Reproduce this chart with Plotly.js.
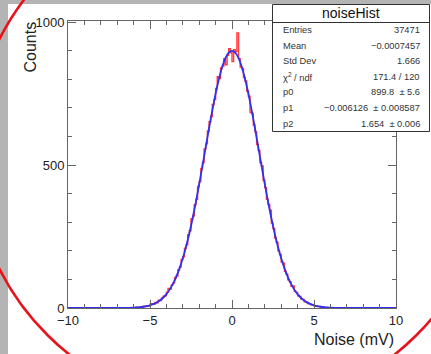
<!DOCTYPE html>
<html>
<head>
<meta charset="utf-8">
<script src="https://cdn.plot.ly/plotly-3.0.1.min.js"></script>
<style>html,body{margin:0;padding:0;background:#fff;}#chart{width:431px;height:354px;}</style>
</head>
<body>
<div id="chart"></div>
<script>
// ---- data ----
const histLow = -10;           // histogram range start (mV)
const binWidth = 0.1;          // bin width (mV)
const emptyLowBins = 40;       // bins -10 .. -6 are empty
const emptyHighBins = 40;      // bins 6 .. 10 are empty
// counts of the bins from -6.0 to 6.0 mV
const coreCounts = [
  2, 1, 3, 2, 4, 3, 6, 5, 8, 7,
  13, 15, 13, 19, 18, 27, 26, 35, 41, 43,
  55, 68, 66, 81, 87, 106, 112, 134, 143, 170,
  179, 209, 221, 256, 270, 312, 322, 361, 380, 425,
  442, 488, 509, 556, 574, 619, 652, 670, 712, 729,
  768, 809, 803, 840, 846, 872, 851, 884, 907, 893,
  862, 904, 897, 962, 872, 843, 838, 806, 794, 759,
  741, 684, 681, 640, 617, 572, 551, 509, 497, 446,
  421, 380, 362, 342, 297, 278, 245, 230, 200, 187,
  161, 157, 128, 118, 99, 92, 76, 77, 58, 54,
  43, 40, 31, 30, 22, 21, 16, 15, 11, 11,
  8, 7, 5, 5, 3, 4, 2, 2, 1, 1
];
// gaussian fit curve as drawn
const fitX = [-10, -9, -8, -7, -6.5, -6.0, -5.8, -5.6, -5.4, -5.2, -5.0, -4.8, -4.6, -4.4, -4.2, -4.0,
  -3.8, -3.6, -3.4, -3.2, -3.0, -2.8, -2.6, -2.4, -2.2, -2.0, -1.8, -1.6, -1.4, -1.2, -1.0,
  -0.8, -0.6, -0.4, -0.2, 0, 0.2, 0.4, 0.6, 0.8, 1.0, 1.2, 1.4, 1.6, 1.8, 2.0, 2.2, 2.4, 2.6,
  2.8, 3.0, 3.2, 3.4, 3.6, 3.8, 4.0, 4.2, 4.4, 4.6, 4.8, 5.0, 5.2, 5.4, 5.6, 5.8, 6.0, 6.5, 7, 8, 9, 10];
const fitY = [0, 0, 0, 0.1, 0.4, 1.3, 1.9, 2.9, 4.4, 6.4, 9.3, 13.3, 18.8, 26.1, 35.8, 48.3,
  64.3, 84.2, 108.8, 138.5, 173.7, 214.7, 261.6, 314.0, 371.5, 433.2, 497.7, 563.6, 628.9, 691.6, 749.5,
  800.5, 842.5, 873.9, 893.3, 899.8, 893.3, 873.9, 842.5, 800.5, 749.5, 691.6, 628.9, 563.6, 497.7, 433.2, 371.5, 314.0, 261.6,
  214.7, 173.7, 138.5, 108.8, 84.2, 64.3, 48.3, 35.8, 26.1, 18.8, 13.3, 9.3, 6.4, 4.4, 2.9, 1.9, 1.3, 0.4, 0.1, 0, 0, 0];
// stats box
const statsTitle = "noiseHist";
const statLabels = ["Entries", "Mean", "Std Dev", "χ<sup>2</sup> / ndf", "p0", "p1", "p2"];
const statValues = ["37471", "−0.0007457", "1.666", "171.4 / 120", "899.8  ± 5.6", "−0.006126  ± 0.008587", "1.654  ± 0.006"];
const xTitle = "Noise (mV)";
const yTitle = "Counts";

// ---- build histogram step line ----
const counts = new Array(emptyLowBins).fill(0).concat(coreCounts, new Array(emptyHighBins).fill(0));
const hx = [], hy = [];
for (let i = 0; i < counts.length; i++) { hx.push(histLow + i * binWidth); hy.push(counts[i]); }
hx.push(histLow + counts.length * binWidth); hy.push(counts[counts.length - 1]);

// ---- geometry helpers (plot area in pixels) ----
const L = 68, R = 396, T = 21, B = 308;
const px = v => (v - L) / (R - L);
const py = v => (B - v) / (B - T);

const fontFam = "Liberation Sans, Arial, sans-serif";
const axisCol = "#666";

const traces = [
  {x: hx, y: hy, type: "scatter", mode: "lines", line: {shape: "hv", color: "#ff3c3c", width: 1.4}, hoverinfo: "skip"},
  {x: fitX, y: fitY, type: "scatter", mode: "lines", line: {shape: "spline", smoothing: 0.6, color: "#3030ee", width: 1.8}, hoverinfo: "skip"}
];

const annotations = [];
annotations.push({xref: "paper", yref: "paper", x: px(351), y: py(13), text: statsTitle, showarrow: false,
  xanchor: "center", yanchor: "middle", font: {family: fontFam, size: 14, color: "#111"}});
const rowY = [30, 46, 61.5, 77, 92.5, 108.3, 124];
statLabels.forEach((s, i) => {
  annotations.push({xref: "paper", yref: "paper", x: px(281), y: py(rowY[i]), text: s, showarrow: false,
    xanchor: "left", yanchor: "middle", font: {family: fontFam, size: 9.3, color: "#333"}});
  annotations.push({xref: "paper", yref: "paper", x: px(422), y: py(rowY[i]), text: statValues[i], showarrow: false,
    xanchor: "right", yanchor: "middle", font: {family: fontFam, size: 9.3, color: "#333"}});
});
annotations.push({xref: "paper", yref: "paper", x: px(396), y: py(339), text: xTitle, showarrow: false,
  xanchor: "right", yanchor: "middle", font: {family: fontFam, size: 16, color: "#222"}});
annotations.push({xref: "paper", yref: "paper", x: px(30), y: py(20), text: yTitle, showarrow: false, textangle: -90,
  xanchor: "center", yanchor: "top", font: {family: fontFam, size: 16, color: "#222"}});

const shapes = [
  // gray window frame strips
  {type: "rect", xref: "paper", yref: "paper", x0: px(0), x1: px(8), y0: py(360), y1: py(-5), fillcolor: "#b4b4b4", line: {width: 0}, layer: "below"},
  {type: "rect", xref: "paper", yref: "paper", x0: px(0), x1: px(435), y0: py(4), y1: py(-5), fillcolor: "#b4b4b4", line: {width: 0}, layer: "below"},
  // stats box
  {type: "rect", xref: "paper", yref: "paper", x0: px(272.5), x1: px(429.5), y0: py(131.5), y1: py(4.5), fillcolor: "#fff", line: {color: "#333", width: 1}},
  {type: "line", xref: "paper", yref: "paper", x0: px(272.5), x1: px(429.5), y0: py(22.5), y1: py(22.5), line: {color: "#333", width: 1}},
  // red hand-drawn ellipse
  {type: "circle", xref: "paper", yref: "paper", x0: px(232 - 260), x1: px(232 + 260), y0: py(154 + 257), y1: py(154 - 257), line: {color: "#e8141c", width: 2.6}}
];

const layout = {
  width: 431, height: 354,
  margin: {l: L, r: 431 - R, t: T, b: 354 - B, pad: 0},
  paper_bgcolor: "#fff", plot_bgcolor: "#fff",
  showlegend: false,
  font: {family: fontFam, color: "#222"},
  xaxis: {range: [-10, 10], tickmode: "linear", tick0: 0, dtick: 5, ticks: "inside", ticklen: 8, tickcolor: axisCol,
    minor: {dtick: 1, tick0: 0, ticks: "inside", ticklen: 4, tickcolor: axisCol, showgrid: false},
    showline: true, linecolor: axisCol, linewidth: 1, mirror: "ticks", showgrid: false, zeroline: false,
    tickfont: {size: 13, color: "#222"}},
  yaxis: {range: [0, 1004], tickmode: "linear", tick0: 0, dtick: 500, ticks: "inside", ticklen: 8, tickcolor: axisCol,
    minor: {dtick: 100, tick0: 0, ticks: "inside", ticklen: 4, tickcolor: axisCol, showgrid: false},
    showline: true, linecolor: axisCol, linewidth: 1, mirror: "ticks", showgrid: false, zeroline: false,
    tickfont: {size: 13, color: "#222"}},
  shapes: shapes,
  annotations: annotations
};

Plotly.newPlot("chart", traces, layout, {staticPlot: true, displayModeBar: false});
</script>
</body>
</html>
